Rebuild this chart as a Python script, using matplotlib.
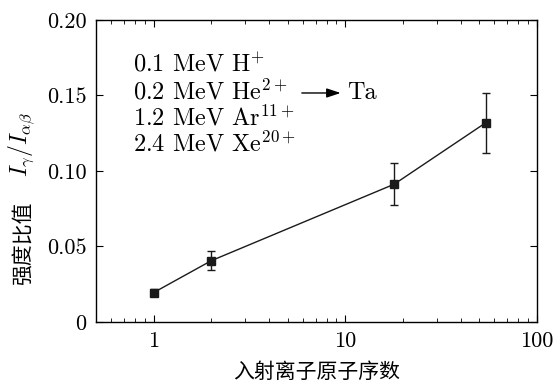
import matplotlib
matplotlib.use("Agg")
import matplotlib.pyplot as plt
from matplotlib.ticker import FixedLocator, NullFormatter, LogLocator

plt.rcParams['font.family'] = ['cmr10', 'Noto Sans CJK SC']
plt.rcParams['mathtext.fontset'] = 'cm'
plt.rcParams['axes.unicode_minus'] = False

# atomic number of incident ion vs intensity ratio
atomic_num = [1, 2, 18, 54]
ratio = [0.0195, 0.0406, 0.0912, 0.1318]
ratio_err = [0.0022, 0.0063, 0.0138, 0.0198]

ion_labels = ['0.1 MeV H$^{+}$', '0.2 MeV He$^{2+}$', '1.2 MeV Ar$^{11+}$', '2.4 MeV Xe$^{20+}$']
y_ticks = [0, 0.05, 0.10, 0.15, 0.20]
y_ticklabels = ['0', '0.05', '0.10', '0.15', '0.20']
x_ticks = [1, 10, 100]
x_ticklabels = ['1', '10', '100']

fig = plt.figure(figsize=(5.58, 3.82), dpi=100)
ax = fig.add_axes([0.172, 0.157, 0.79, 0.791])

ax.errorbar(atomic_num, ratio, yerr=ratio_err, color='#1a1a1a', lw=1.0,
            marker='s', ms=5.5, capsize=3, elinewidth=1.0, capthick=1.0)

ax.set_xscale('log')
ax.set_xlim(0.5, 100)
ax.set_ylim(0, 0.20)
ax.xaxis.set_major_locator(FixedLocator(x_ticks))
ax.set_xticklabels(x_ticklabels)
ax.xaxis.set_minor_locator(LogLocator(base=10, subs=range(2, 10)))
ax.xaxis.set_minor_formatter(NullFormatter())
ax.set_yticks(y_ticks)
ax.set_yticklabels(y_ticklabels)
ax.tick_params(which='both', direction='in', top=True, right=True, labelsize=16)
ax.tick_params(which='major', length=5, width=0.8)
ax.tick_params(which='minor', length=3, width=0.6)
ax.tick_params(axis='x', pad=7)
ax.tick_params(axis='y', pad=7)
for s in ax.spines.values():
    s.set_linewidth(1.0)

ax.set_xlabel('入射离子原子序数', fontsize=15, labelpad=8)
# y label: Chinese part and math part drawn separately so both fonts render
fig.text(0.040, 0.364, '强度比值', rotation=90, fontsize=15, ha='center', va='center',
         family='Noto Sans CJK SC')
fig.text(0.040, 0.622, '$I_{\\gamma}/I_{\\alpha\\beta}$', rotation=90, fontsize=17,
         ha='center', va='center')

for i, lab in enumerate(ion_labels):
    ax.text(0.084, 0.848 - i * 0.086, lab, transform=ax.transAxes, fontsize=17.5,
            va='center', ha='left')
ax.annotate('', xy=(0.555, 0.758), xytext=(0.467, 0.758), xycoords='axes fraction',
            arrowprops=dict(arrowstyle='-|>,head_length=0.6,head_width=0.2', color='black',
                            lw=1.0, mutation_scale=14, shrinkA=0, shrinkB=0))
ax.text(0.569, 0.758, 'Ta', transform=ax.transAxes, fontsize=17.5, va='center', ha='left')

fig.savefig('out.png', dpi=100)
